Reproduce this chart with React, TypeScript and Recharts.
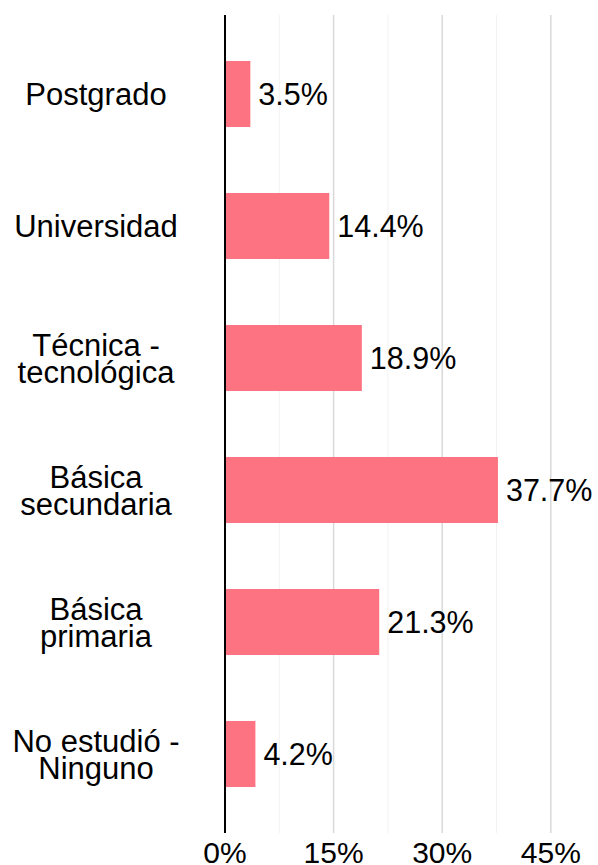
import React from "react";
import { BarChart, Bar, XAxis, YAxis, CartesianGrid, LabelList } from "recharts";

const categories = [
  "Postgrado",
  "Universidad",
  "Técnica - tecnológica",
  "Básica secundaria",
  "Básica primaria",
  "No estudió - Ninguno",
];
const values = [3.5, 14.4, 18.9, 37.7, 21.3, 4.2];
const majorTicks = [0, 15, 30, 45];
const minorTicks = [7.5, 22.5, 37.5];

// labels that wrap onto two lines
const labelLines: Record<string, string[]> = {
  "Técnica - tecnológica": ["Técnica -", "tecnológica"],
  "Básica secundaria": ["Básica", "secundaria"],
  "Básica primaria": ["Básica", "primaria"],
  "No estudió - Ninguno": ["No estudió -", "Ninguno"],
};

const data = categories.map((name, i) => ({ name, value: values[i] }));

const FONT = "'Liberation Sans', Arial, sans-serif";

function CategoryTick({ y, payload }: any) {
  const lines = labelLines[payload.value] ?? [payload.value];
  const lh = 27;
  const first = y + 11 - ((lines.length - 1) * lh) / 2;
  return (
    <text x={96} textAnchor="middle" fontSize={31} fontFamily={FONT} fill="#000">
      {lines.map((l, i) => (
        <tspan key={i} x={96} y={first + i * lh}>
          {l}
        </tspan>
      ))}
    </text>
  );
}

function PctTick({ x, y, payload }: any) {
  return (
    <text x={x} y={y + 22} textAnchor="middle" fontSize={30} fontFamily={FONT} fill="#000">
      {payload.value}%
    </text>
  );
}

const gridAt = (ticks: number[]) => (props: any) => {
  const scale = props?.xAxis?.scale;
  if (!scale) return [];
  const fn = typeof scale.map === "function" ? (v: number) => scale.map(v) : scale;
  return ticks.map((t) => fn(t));
};

export default function App() {
  return (
    <div style={{ position: "absolute", left: 0, top: 0, background: "#fff" }}>
      <BarChart
        width={598}
        height={865}
        data={data}
        layout="vertical"
        margin={{ top: 15, right: 11, bottom: 0, left: 0 }}
      >
        <CartesianGrid
          horizontal={false}
          stroke="#f2f2f2"
          strokeWidth={1}
          verticalCoordinatesGenerator={gridAt(minorTicks)}
        />
        <CartesianGrid
          horizontal={false}
          stroke="#d9d9d9"
          strokeWidth={1.5}
          verticalCoordinatesGenerator={gridAt(majorTicks.slice(1))}
        />
        <XAxis
          type="number"
          domain={[0, 50]}
          ticks={majorTicks}
          axisLine={false}
          tickLine={false}
          height={32}
          tick={<PctTick />}
          interval={0}
        />
        <YAxis
          type="category"
          dataKey="name"
          width={225}
          padding={{ top: 13, bottom: 13 }}
          axisLine={{ stroke: "#000", strokeWidth: 2 }}
          tickLine={false}
          tick={<CategoryTick />}
          interval={0}
        />
        <Bar dataKey="value" fill="#fe7381" barSize={66} isAnimationActive={false}>
          <LabelList
            dataKey="value"
            position="right"
            offset={8}
            formatter={(v: any) => `${Number(v).toFixed(1)}%`}
            style={{ fontSize: 30.5, fontFamily: FONT, fill: "#000" }}
          />
        </Bar>
      </BarChart>
    </div>
  );
}
